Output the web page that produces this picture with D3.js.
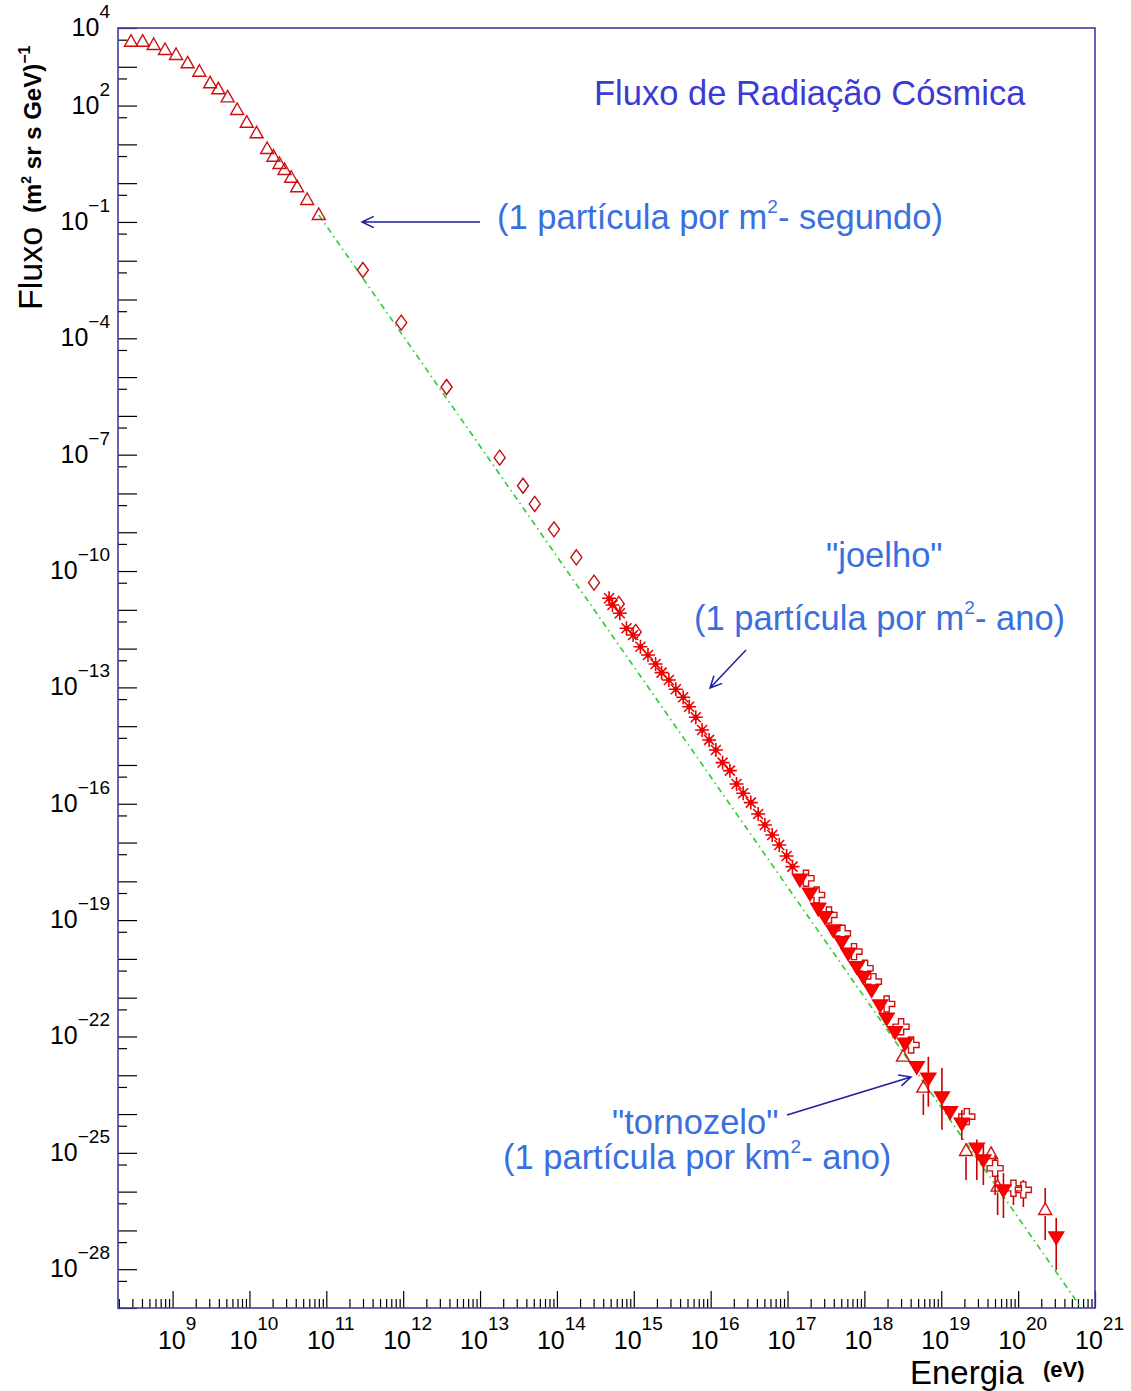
<!DOCTYPE html>
<html>
<head>
<meta charset="utf-8">
<script src="https://cdnjs.cloudflare.com/ajax/libs/d3/7.8.5/d3.min.js"></script>
<style>
 body { margin: 0; background: #fff; }
 text { font-family: "Liberation Sans", Arial, Helvetica, sans-serif; }
</style>
</head>
<body>
<div id="my_dataviz"></div>
<script>
// ---- values ----
// low energy, open triangles
var lowE = [2.88e8, 4.08e8, 5.68e8, 7.98e8, 1.11e9, 1.57e9, 2.23e9, 3.08e9, 3.94e9, 5.21e9, 6.92e9,
            9.23e9, 1.24e10, 1.70e10, 2.05e10, 2.46e10, 2.86e10, 3.49e10, 4.18e10, 5.64e10, 7.98e10];
var lowF = [4.44e3, 4.44e3, 3.65e3, 2.71e3, 2.01e3, 1.23e3, 746, 375, 263, 163, 76.9,
            36.2, 19.3, 7.59, 4.81, 3.12, 2.18, 1.38, 0.782, 0.368, 0.151];
// direct measurements, open diamonds
var diaE = [2.99e11, 9.44e11, 3.67e12, 1.80e13, 3.62e13, 5.14e13, 9.16e13, 1.79e14, 3.04e14, 6.38e14, 1.06e15];
var diaF = [5.77e-3, 2.53e-4, 5.56e-6, 8.36e-8, 1.58e-8, 5.36e-9, 1.19e-9, 2.26e-10, 5.01e-11, 1.42e-11, 2.69e-12];
// knee region, asterisks
var starE = [4.77e14, 5.28e14, 6.58e14, 8.04e14, 9.80e14, 1.22e15, 1.53e15, 1.92e15, 2.30e15, 2.86e15,
             3.52e15, 4.39e15, 5.25e15, 6.41e15, 7.74e15, 9.55e15, 1.17e16, 1.43e16, 1.78e16, 2.17e16,
             2.65e16, 3.33e16, 4.15e16, 5.08e16, 6.32e16, 7.80e16, 9.73e16, 1.16e17];
var starF = [1.99e-11, 1.33e-11, 8.15e-12, 3.34e-12, 2.25e-12, 1.12e-12, 6.85e-13, 4.02e-13, 2.40e-13, 1.55e-13,
             8.95e-14, 5.57e-14, 3.18e-14, 1.70e-14, 7.98e-15, 4.42e-15, 2.44e-15, 1.15e-15, 7.13e-16, 3.24e-16,
             1.87e-16, 1.07e-16, 5.46e-17, 2.84e-17, 1.57e-17, 8.67e-18, 4.51e-18, 2.39e-18];
// open crosses
var crossE  = [1.74e17, 2.39e17, 3.46e17, 5.19e17, 7.33e17, 1.02e18, 1.31e18, 1.95e18, 3.00e18, 4.05e18,
               2.15e19, 5.02e19, 8.69e19, 1.17e20];
var crossF  = [1.20e-18, 4.46e-19, 1.36e-19, 4.58e-20, 1.54e-20, 5.74e-21, 2.59e-21, 6.90e-22, 1.79e-22, 6.05e-23,
               8.59e-25, 4.01e-26, 1.22e-26, 1.11e-26];
var crossHi = [null, null, null, null, null, null, null, null, null, null, null, 8.83e-26, 2.00e-26, 2.00e-26];
var crossLo = [null, null, null, null, null, null, null, null, null, null, null, 8.22e-27, 4.54e-27, 4.03e-27];
// filled triangles (down)
var fillE  = [1.45e17, 1.96e17, 2.51e17, 3.07e17, 3.94e17, 5.06e17, 6.17e17, 7.94e17, 9.68e17, 1.24e18,
              1.60e18, 1.95e18, 2.50e18, 3.38e18, 4.80e18, 6.79e18, 1.02e19, 1.30e19, 1.85e19, 2.90e19,
              3.53e19, 6.44e19, 3.13e20];
var fillF  = [1.13e-18, 4.93e-19, 2.02e-19, 1.23e-19, 5.57e-20, 2.79e-20, 1.40e-20, 6.31e-21, 3.49e-21, 1.58e-21,
              6.50e-22, 2.95e-22, 1.33e-22, 6.70e-23, 1.67e-23, 8.38e-24, 2.76e-24, 1.15e-24, 5.79e-25, 1.32e-25,
              6.56e-26, 1.11e-26, 6.79e-28];
var fillHi = [null, null, null, null, null, null, null, null, null, null, null, null, null, null, null,
              3.02e-23, 1.55e-23, null, 1.28e-24, 2.20e-25, 1.60e-25, 3.03e-26, 2.10e-27];
var fillLo = [null, null, null, null, null, null, null, null, null, null, null, null, null, null, null,
              1.55e-24, 3.92e-25, null, 2.15e-25, 2.00e-26, 1.49e-26, 2.10e-27, 9.59e-29];
// highest energies, open triangles
var hiTriE  = [3.18e18, 5.85e18, 2.10e19, 4.45e19, 5.41e19, 2.25e20];
var hiTriF  = [3.02e-23, 4.80e-24, 1.12e-25, 9.38e-26, 1.35e-26, 3.37e-27];
var hiTriHi = [null, 7.59e-24, 1.60e-25, null, 2.69e-26, 1.25e-26];
var hiTriLo = [null, 9.48e-25, 2.00e-26, null, 2.51e-27, 5.69e-28];
// power law guide line (end points)
var lineE = [7.98e10, 6.31e20];
var lineF = [0.151, 1.15e-29];
// axis ticks
var xTickExp = [9, 10, 11, 12, 13, 14, 15, 16, 17, 18, 19, 20, 21];
var yLabelExp = [4, 2, -1, -4, -7, -10, -13, -16, -19, -22, -25, -28];

// set the dimensions and margins of the graph
var margin = {top: 28, right: 36, bottom: 83, left: 118},
    width = 1131 - margin.left - margin.right,
    height = 1391 - margin.top - margin.bottom;

var svg = d3.select("#my_dataviz")
  .append("svg")
    .attr("width", width + margin.left + margin.right)
    .attr("height", height + margin.top + margin.bottom)
  .append("g")
    .attr("transform", "translate(" + margin.left + "," + margin.top + ")");

var x = d3.scaleLog().domain([1.95e8, 1e21]).range([0, width]);
var y = d3.scaleLog().domain([1e-29, 1e4]).range([height, 0]);

svg.append("clipPath").attr("id", "clip")
  .append("rect").attr("width", width).attr("height", height);

function blackTicks(g) {
  g.select(".domain").remove();
  g.selectAll("line").attr("stroke", "#000").attr("stroke-width", 1.2);
}

// X axis: decade ticks long, 2..9 short
var xMajor = xTickExp.map(function(e) { return Math.pow(10, e); });
var xMinor = x.ticks(200).filter(function(v) {
  var m = Math.round(v / Math.pow(10, Math.floor(Math.log10(v) + 1e-9)));
  return m > 1;
});
svg.append("g").attr("transform", "translate(0," + height + ")")
  .call(d3.axisBottom(x).tickValues(xMinor).tickSize(-9).tickFormat(""))
  .call(blackTicks);
var xg = svg.append("g").attr("transform", "translate(0," + height + ")")
  .call(d3.axisBottom(x).tickValues(xMajor).tickSize(-17).tickFormat(""))
  .call(blackTicks);
xg.selectAll(".tick").each(function(d, i) {
  var t = d3.select(this).append("text")
    .attr("x", 4).attr("y", 41).attr("text-anchor", "middle").attr("fill", "#000");
  t.append("tspan").attr("font-size", 25).text("10");
  t.append("tspan").attr("font-size", 19).attr("dy", -19).text(xTickExp[i]);
});

// Y axis: every decade long, 5x10^k short
var yMajor = d3.range(-29, 5).map(function(e) { return Math.pow(10, e); });
var yMinor = d3.range(-29, 4).map(function(e) { return 5 * Math.pow(10, e); });
svg.append("g")
  .call(d3.axisLeft(y).tickValues(yMinor).tickSize(-9).tickFormat(""))
  .call(blackTicks);
svg.append("g")
  .call(d3.axisLeft(y).tickValues(yMajor).tickSize(-19).tickFormat(""))
  .call(blackTicks);
var yl = svg.append("g").selectAll("text").data(yLabelExp).enter().append("text")
  .attr("x", -8).attr("y", function(d) { return y(Math.pow(10, d)) + 8; })
  .attr("text-anchor", "end").attr("fill", "#000");
yl.append("tspan").attr("font-size", 25).text("10");
yl.append("tspan").attr("font-size", 19).attr("dy", -18)
  .text(function(d) { return d < 0 ? "\u2212" + (-d) : d; });

// frame
svg.append("rect").attr("width", width).attr("height", height)
  .attr("fill", "none").attr("stroke", "#3c3ca6").attr("stroke-width", 1.6);

var plot = svg.append("g").attr("clip-path", "url(#clip)");

// power law line
plot.append("path")
  .datum(d3.zip(lineE, lineF))
  .attr("d", d3.line().x(function(d) { return x(d[0]); }).y(function(d) { return y(d[1]); }))
  .attr("fill", "none").attr("stroke", "#35cf35").attr("stroke-width", 1.7)
  .attr("stroke-dasharray", "6,4,1.5,4");

// marker shapes
var shapes = {
  triUp: "M0,-7L6.5,4.5L-6.5,4.5Z",
  triDown: "M0,7.5L7.5,-5L-7.5,-5Z",
  diamond: "M0,-7.5L5.5,0L0,7.5L-5.5,0Z",
  cross: "M-2.6,-8H2.6V-2.6H8V2.6H2.6V8H-2.6V2.6H-8V-2.6H-2.6Z"
};

function errorBars(E, F, hi, lo, gap) {
  var rows = d3.range(E.length).filter(function(i) { return hi[i] != null; });
  plot.selectAll(null).data(rows).enter().append("path")
    .attr("d", function(i) {
      var px = x(E[i]), py = y(F[i]);
      return "M" + px + "," + y(hi[i]) + "V" + (py - gap) + "M" + px + "," + (py + gap) + "V" + y(lo[i]);
    })
    .attr("stroke", "#c80000").attr("stroke-width", 1.6).attr("fill", "none");
}

function markers(E, F, shape, fill, stroke) {
  plot.selectAll(null).data(d3.zip(E, F)).enter().append("path")
    .attr("d", shapes[shape])
    .attr("transform", function(d) { return "translate(" + x(d[0]) + "," + y(d[1]) + ")"; })
    .attr("fill", fill).attr("stroke", stroke).attr("stroke-width", 1.4);
}

markers(lowE, lowF, "triUp", "none", "#cc1010");
markers(diaE, diaF, "diamond", "none", "#c01010");

// asterisks
var star = plot.selectAll(null).data(d3.zip(starE, starF)).enter().append("g")
  .attr("transform", function(d) { return "translate(" + x(d[0]) + "," + y(d[1]) + ")"; });
star.append("path")
  .attr("d", "M-7,0H7M0,-7V7M-5,-5L5,5M-5,5L5,-5")
  .attr("stroke", "#ee0000").attr("stroke-width", 1.6);
star.append("circle").attr("r", 2.6).attr("fill", "#ee0000");

errorBars(crossE, crossF, crossHi, crossLo, 8);
markers(crossE, crossF, "cross", "none", "#d01010");
errorBars(hiTriE, hiTriF, hiTriHi, hiTriLo, 6);
markers(hiTriE, hiTriF, "triUp", "none", "#d01010");
errorBars(fillE, fillF, fillHi, fillLo, 0);
markers(fillE, fillF, "triDown", "#ff0000", "#ee0000");

// axis titles (page coordinates)
var page = d3.select("#my_dataviz svg");
var yt = page.append("text").attr("transform", "translate(42,310) rotate(-90)").attr("fill", "#000");
yt.append("tspan").attr("font-size", 34).text("Fluxo");
var yt2 = page.append("text").attr("transform", "translate(41,213) rotate(-90)")
  .attr("fill", "#000").attr("font-weight", "bold").attr("font-size", 24);
yt2.append("tspan").text("(m");
yt2.append("tspan").attr("font-size", 14).attr("dy", -10).text("2");
yt2.append("tspan").attr("dy", 10).text(" sr s GeV)");
yt2.append("tspan").attr("font-size", 16).attr("dy", -11).text("\u22121");

page.append("text").attr("x", 910).attr("y", 1384).attr("font-size", 33).attr("fill", "#000").text("Energia");
page.append("text").attr("x", 1043).attr("y", 1377).attr("font-size", 22).attr("font-weight", "bold")
  .attr("fill", "#000").text("(eV)");

// title and notes
page.append("text").attr("x", 594).attr("y", 105).attr("font-size", 34.5)
  .attr("fill", "#3b3bd4").text("Fluxo de Radia\u00e7\u00e3o C\u00f3smica");

function note(px, py, before, sup, after) {
  var t = page.append("text").attr("x", px).attr("y", py).attr("font-size", 34.5).attr("fill", "#3a6fe0");
  t.append("tspan").text(before);
  if (sup) {
    t.append("tspan").attr("font-size", 19).attr("dy", -16).text(sup);
    t.append("tspan").attr("dy", 16).text(after);
  }
}
note(497, 229, "(1 part\u00edcula por m", "2", "- segundo)");
note(826, 567, "\"joelho\"");
note(694, 630, "(1 part\u00edcula por m", "2", "- ano)");
note(612, 1134, "\"tornozelo\"");
note(503, 1169, "(1 part\u00edcula por km", "2", "- ano)");

// arrows
var arrows = [
  [[480, 222], [362, 222]],
  [[746, 650], [710, 688]],
  [[787, 1115], [911, 1077]]
];
arrows.forEach(function(a) {
  var dx = a[1][0] - a[0][0], dy = a[1][1] - a[0][1], ang = Math.atan2(dy, dx);
  var h = 13, s = 0.45;
  var p1 = [a[1][0] - h * Math.cos(ang - s), a[1][1] - h * Math.sin(ang - s)];
  var p2 = [a[1][0] - h * Math.cos(ang + s), a[1][1] - h * Math.sin(ang + s)];
  page.append("path")
    .attr("d", "M" + a[0] + "L" + a[1] + "M" + p1 + "L" + a[1] + "L" + p2)
    .attr("fill", "none").attr("stroke", "#1e1ea0").attr("stroke-width", 1.5);
});
</script>
</body>
</html>
